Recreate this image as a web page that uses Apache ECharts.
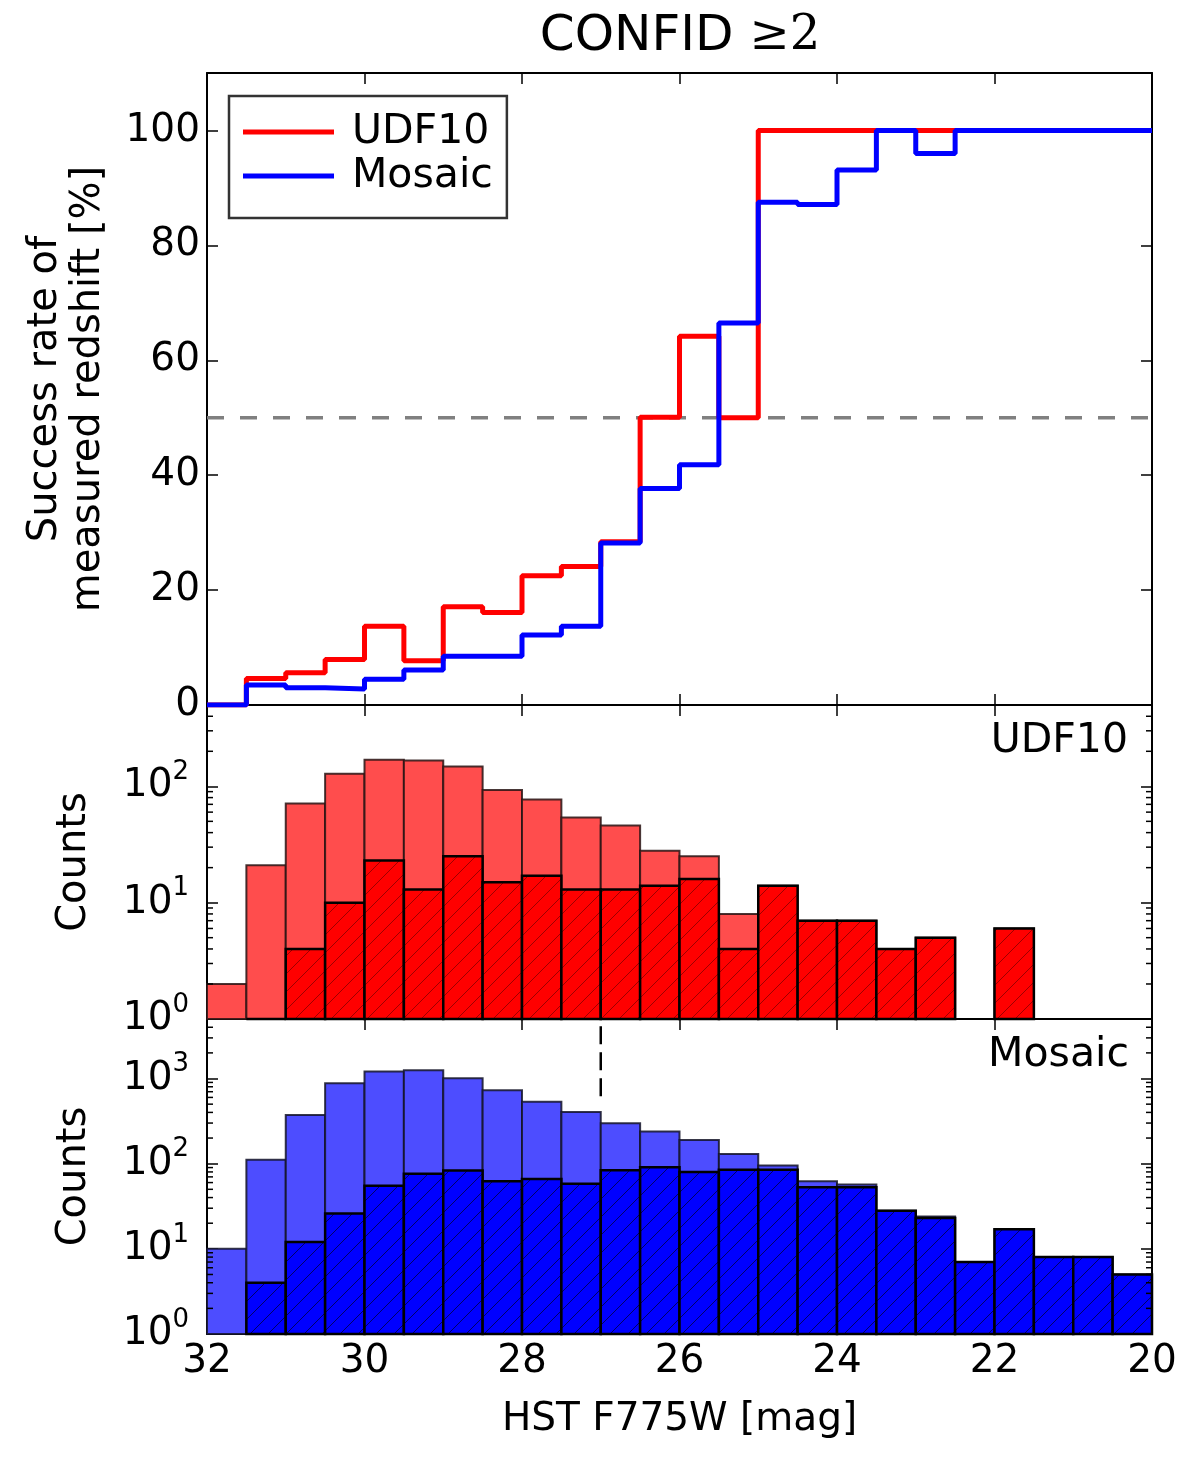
<!DOCTYPE html>
<html><head><meta charset="utf-8">
<script src="https://cdn.jsdelivr.net/npm/echarts@6/dist/echarts.min.js"></script>
<style>html,body{margin:0;padding:0;background:#fff}#c{width:1200px;height:1465px}</style>
</head><body><div id="c"></div>
<script>
// ---------- data ----------
const binEdges = [32,31.5,31,30.5,30,29.5,29,28.5,28,27.5,27,26.5,26,25.5,25,24.5,24,23.5,23,22.5,22,21.5,21,20.5,20];
const udf10Rate  = [0,4.6,5.6,7.9,13.7,7.7,17.1,16.1,22.5,24.1,28.4,50.1,64.2,50,100,100,100,100,100,100,100,100,100,100];
const mosaicRate = [0,3.5,3.0,2.8,4.5,6.1,8.5,8.5,12.2,13.7,28.2,37.7,41.8,66.5,87.5,87.1,93.1,100,96.0,100,100,100,100,100];
const udf10Total  = [2,21,71,128,169,167,148,93,77,54,46,28,25,8,14,7,7,4,5,0,6,0,0,0];
const udf10Good   = [0,1,4,10,23,13,25,15,17,13,13,14,16,4,14,7,7,4,5,0,6,0,0,0];
const mosaicTotal = [10,111,374,879,1213,1247,1005,728,535,405,299,239,190,130,95,62,57,28,24,7,17,8,8,5];
const mosaicGood  = [0,4,12,26,55,76,83,62,66,58,84,91,80,85,85,53,53,28,23,7,17,8,8,5];
const halfLine = 50;
const completenessMag = 27;
const udf10MinorTicks  = [2,3,4,5,6,7,8,9,20,30,40,50,60,70,80,90,200,300,400];
const mosaicMinorTicks = [2,3,4,5,6,7,8,9,20,30,40,50,60,70,80,90,200,300,400,500,600,700,800,900,2000,3000,4000];
const seriesNames = ['UDF10','Mosaic'];

// ---------- helpers ----------
const FONT = 'DejaVu Sans';
const MAG_MIN = 20, MAG_MAX = 32;
const U_MAX = 500, M_MAX = 5000;

function hatch(bg, alpha){
  const n = 18, c = document.createElement('canvas');
  c.width = n; c.height = n;
  const g = c.getContext('2d');
  g.fillStyle = bg; g.fillRect(0,0,n,n);
  g.strokeStyle = 'rgba(0,0,0,' + alpha + ')'; g.lineWidth = 1;
  g.beginPath();
  g.moveTo(0,n); g.lineTo(n,0);
  g.moveTo(-1,1); g.lineTo(1,-1);
  g.moveTo(n-1,n+1); g.lineTo(n+1,n-1);
  g.stroke();
  return {image:c, repeat:'repeat'};
}
const stepData = r => binEdges.map((e,i)=>[e, r[Math.min(i, r.length-1)]]);
const barData = cnt => cnt.map((c,i)=>[binEdges[i], binEdges[i+1], c]);

function barRender(fill, stroke, lw){
  return function(params, api){
    const v = api.value(2);
    if(!(v > 0)) return null;
    const a = api.coord([api.value(0), v]);
    const b = api.coord([api.value(1), 1]);
    return {type:'rect', shape:{x:Math.min(a[0],b[0]), y:Math.min(a[1],b[1]),
      width:Math.abs(b[0]-a[0]), height:Math.abs(b[1]-a[1])},
      style:{fill:fill, stroke:stroke, lineWidth:lw}};
  };
}
function minorRender(params, api){
  const v = api.value(1);
  const l = api.coord([MAG_MAX, v]), r = api.coord([MAG_MIN, v]);
  return {type:'group', children:[
    {type:'line', shape:{x1:l[0], y1:l[1], x2:l[0]+6, y2:l[1]}, style:{stroke:'#000', lineWidth:1.5}},
    {type:'line', shape:{x1:r[0]-6, y1:r[1], x2:r[0], y2:r[1]}, style:{stroke:'#000', lineWidth:1.5}}
  ]};
}
const axLine = {show:true, onZero:false, lineStyle:{color:'#000', width:2}};
const axTick = {show:true, inside:true, length:11, lineStyle:{color:'#000', width:1.5}};
function xAx(gi, pos, lab){
  return {type:'value', gridIndex:gi, position:pos, inverse:true, min:MAG_MIN, max:MAG_MAX, interval:2,
    axisLine:axLine, axisTick:axTick, splitLine:{show:false},
    axisLabel:{show:lab, fontFamily:FONT, fontSize:39, color:'#000', margin:8, showMinLabel:true, showMaxLabel:true},
    name: lab ? 'HST F775W [mag]' : '', nameLocation:'middle', nameGap:66,
    nameTextStyle:{fontFamily:FONT, fontSize:39, color:'#000'}};
}
const logFmt = v => {
  const e = Math.round(Math.log10(v));
  if (Math.abs(Math.pow(10,e) - v) > 1e-6*v) return '';
  return '{b|10}{s|' + e + '}';
};
const logRich = {b:{fontFamily:FONT, fontSize:39, color:'#000'}, s:{fontFamily:FONT, fontSize:26, color:'#000', padding:[0,0,28,0]}};
function logAx(gi, pos, max, lab){
  return {type:'log', logBase:10, gridIndex:gi, position:pos, min:1, max:max,
    axisLine:axLine, axisTick:axTick, splitLine:{show:false}, minorTick:{show:false},
    axisLabel:{show:lab, formatter:logFmt, rich:logRich, margin:18, showMaxLabel:false},
    name: lab ? 'Counts' : '', nameLocation:'middle', nameGap:112,
    nameTextStyle:{fontFamily:FONT, fontSize:40, color:'#000'}};
}

const chart = echarts.init(document.getElementById('c'), null, {renderer:'canvas'});
const option = {
  backgroundColor:'#fff',
  animation:false,
  title:[
    {text:'{a|CONFID }{m|≥2}', left:680, textAlign:'center', top:12, padding:0,
     textStyle:{fontWeight:'normal', rich:{a:{fontFamily:FONT, fontSize:50, fontWeight:'normal', color:'#000'}, m:{fontFamily:'DejaVu Serif', fontSize:48, fontWeight:'normal', color:'#000'}}}},
    {text:'UDF10', right:72, top:721, padding:0, textStyle:{fontFamily:FONT, fontSize:41, fontWeight:'normal', color:'#000'}},
    {text:'Mosaic', right:71, top:1035, padding:0, textStyle:{fontFamily:FONT, fontSize:41, fontWeight:'normal', color:'#000'}}
  ],
  legend:{data:seriesNames, orient:'vertical', left:229, top:96, padding:[15,14,21,14], itemGap:2,
    icon:'rect', itemWidth:91, itemHeight:5, borderColor:'#333', borderWidth:2.5, backgroundColor:'#fff',
    textStyle:{fontFamily:FONT, fontSize:41, color:'#000', padding:[0,0,0,13], lineHeight:42}},
  grid:[
    {left:207, right:48, top:73, height:632},
    {left:207, right:48, top:705, height:314},
    {left:207, right:48, top:1019, height:315}
  ],
  xAxis:[xAx(0,'bottom',false), xAx(0,'top',false), xAx(1,'bottom',false), xAx(1,'top',false), xAx(2,'bottom',true), xAx(2,'top',false)],
  yAxis:[
    {type:'value', gridIndex:0, position:'left', min:0, max:110, interval:20, axisLine:axLine, axisTick:axTick, splitLine:{show:false},
     axisLabel:{fontFamily:FONT, fontSize:39, color:'#000', margin:7, formatter:v=> v>100 ? '' : String(v)},
     name:'Success rate of\nmeasured redshift [%]', nameLocation:'middle', nameGap:97,
     nameTextStyle:{fontFamily:FONT, fontSize:40, color:'#000', lineHeight:43}},
    {type:'value', gridIndex:0, position:'right', min:0, max:110, interval:20, axisLine:axLine, axisTick:axTick, splitLine:{show:false}, axisLabel:{show:false}},
    logAx(1,'left',U_MAX,true), logAx(1,'right',U_MAX,false),
    logAx(2,'left',M_MAX,true), logAx(2,'right',M_MAX,false)
  ],
  series:[
    {type:'line', name:'half', xAxisIndex:0, yAxisIndex:0, data:[[MAG_MAX,halfLine],[MAG_MIN,halfLine]], symbol:'none', silent:true, z:1,
     lineStyle:{color:'#808080', width:3.5, type:[17,16]}},
    {type:'line', name:'UDF10', xAxisIndex:0, yAxisIndex:0, data:stepData(udf10Rate), step:'end', symbol:'none', showSymbol:false, z:2,
     itemStyle:{color:'#ff0000'}, lineStyle:{color:'#ff0000', width:5}},
    {type:'line', name:'Mosaic', xAxisIndex:0, yAxisIndex:0, data:stepData(mosaicRate), step:'end', symbol:'none', showSymbol:false, z:3,
     itemStyle:{color:'#0000ff'}, lineStyle:{color:'#0000ff', width:5}},
    {type:'custom', name:'udf10All', xAxisIndex:2, yAxisIndex:2, data:barData(udf10Total), encode:{x:[0,1], y:2}, z:2,
     renderItem:barRender('#ff4d4d','rgba(40,20,20,0.85)',2)},
    {type:'custom', name:'udf10Good', xAxisIndex:2, yAxisIndex:2, data:barData(udf10Good), encode:{x:[0,1], y:2}, z:3,
     renderItem:barRender(hatch('#ff0000',0.38),'#000',2.5)},
    {type:'custom', name:'udf10Minor', xAxisIndex:2, yAxisIndex:2, data:udf10MinorTicks.map(v=>[MAG_MAX,v]), encode:{x:0, y:1}, z:4,
     renderItem:minorRender, silent:true},
    {type:'custom', name:'mosaicAll', xAxisIndex:4, yAxisIndex:4, data:barData(mosaicTotal), encode:{x:[0,1], y:2}, z:2,
     renderItem:barRender('#4d4dff','rgba(20,20,40,0.85)',2)},
    {type:'custom', name:'mosaicGood', xAxisIndex:4, yAxisIndex:4, data:barData(mosaicGood), encode:{x:[0,1], y:2}, z:3,
     renderItem:barRender(hatch('#0000ff',0.6),'#000',2.5)},
    {type:'custom', name:'mosaicMinor', xAxisIndex:4, yAxisIndex:4, data:mosaicMinorTicks.map(v=>[MAG_MAX,v]), encode:{x:0, y:1}, z:4,
     renderItem:minorRender, silent:true},
    {type:'line', name:'compl', xAxisIndex:4, yAxisIndex:4, silent:true, symbol:'none', z:5,
     data:[[completenessMag, Math.pow(10, 0.755*Math.log10(M_MAX))],[completenessMag, M_MAX]],
     lineStyle:{color:'#000', width:2.5, type:[18,8]}}
  ]
};
chart.setOption(option);
</script></body></html>
